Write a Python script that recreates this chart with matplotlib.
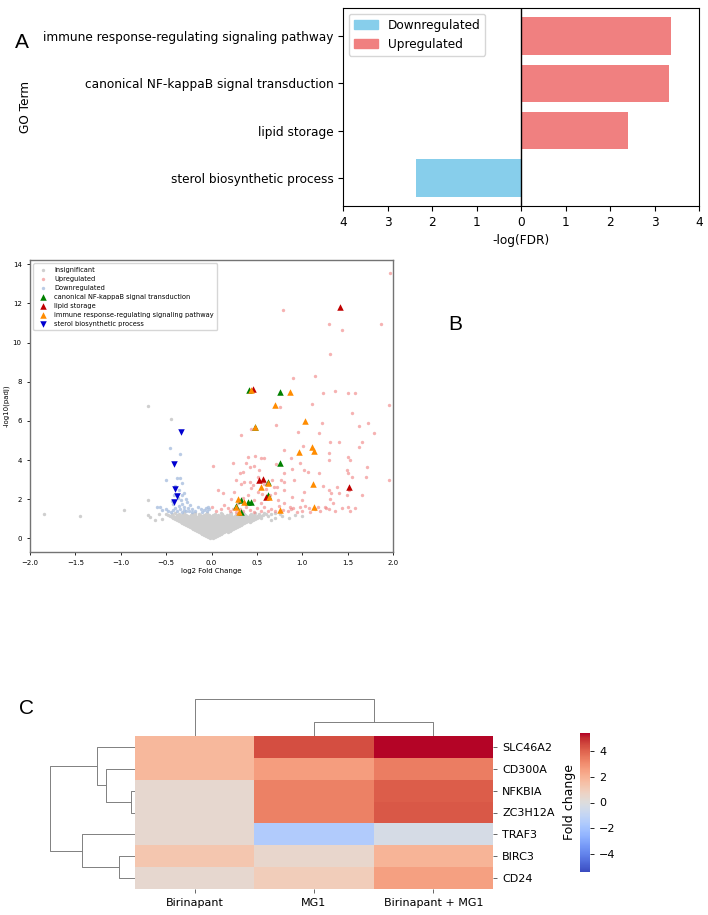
import matplotlib
matplotlib.use("Agg")
import matplotlib.pyplot as plt
import numpy as np
from matplotlib.patches import Patch

# ---------------- Panel A data ----------------
go_terms = ["sterol biosynthetic process", "lipid storage",
            "canonical NF-kappaB signal transduction",
            "immune response-regulating signaling pathway"]
go_neglog_fdr = [2.36, 2.40, 3.32, 3.37]
go_direction = ["Downregulated", "Upregulated", "Upregulated", "Upregulated"]
a_xticks = [-4, -3, -2, -1, 0, 1, 2, 3, 4]

# ---------------- Panel B data (log2FC, -log10 padj) ----------------
insig_rows_y = [0.02, 0.07, 0.12, 0.17, 0.22, 0.27, 0.32, 0.37, 0.42, 0.47, 0.52, 0.57,
                0.62, 0.67, 0.72, 0.77, 0.82, 0.87, 0.92, 0.97, 1.02, 1.07, 1.12, 1.17,
                1.22, 1.27]
insig_rows_x = [
    [-0.02, 0.02],
    [-0.04, 0.00, 0.04],
    [-0.06, -0.02, 0.02, 0.06],
    [-0.08, -0.04, 0.00, 0.04, 0.08],
    [-0.10, -0.06, -0.02, 0.02, 0.06, 0.10],
    [-0.12, -0.08, -0.04, 0.00, 0.04, 0.08, 0.12],
    [-0.14, -0.10, -0.06, -0.02, 0.02, 0.06, 0.10, 0.14, 0.18],
    [-0.16, -0.12, -0.08, -0.04, 0.00, 0.04, 0.08, 0.12, 0.16, 0.20],
    [-0.18, -0.14, -0.10, -0.06, -0.02, 0.02, 0.06, 0.10, 0.14, 0.18, 0.22],
    [-0.20, -0.16, -0.12, -0.08, -0.04, 0.00, 0.04, 0.08, 0.12, 0.16, 0.20, 0.24],
    [-0.22, -0.18, -0.14, -0.10, -0.06, -0.02, 0.02, 0.06, 0.10, 0.14, 0.18, 0.22, 0.26],
    [-0.24, -0.20, -0.16, -0.12, -0.08, -0.04, 0.00, 0.04, 0.08, 0.12, 0.16, 0.20, 0.24, 0.28],
    [-0.26, -0.22, -0.18, -0.14, -0.10, -0.06, -0.02, 0.02, 0.06, 0.10, 0.14, 0.18, 0.22, 0.26, 0.30],
    [-0.28, -0.24, -0.20, -0.16, -0.12, -0.08, -0.04, 0.00, 0.04, 0.08, 0.12, 0.16, 0.20, 0.24, 0.28, 0.32],
    [-0.30, -0.26, -0.22, -0.18, -0.14, -0.10, -0.06, -0.02, 0.02, 0.06, 0.10, 0.14, 0.18, 0.22, 0.26, 0.30, 0.34],
    [-0.32, -0.28, -0.24, -0.20, -0.16, -0.12, -0.08, -0.04, 0.00, 0.04, 0.08, 0.12, 0.16, 0.20, 0.24, 0.28, 0.32, 0.36],
    [-0.34, -0.30, -0.26, -0.22, -0.18, -0.14, -0.10, -0.06, -0.02, 0.02, 0.06, 0.10, 0.14, 0.18, 0.22, 0.26, 0.30, 0.34, 0.38, 0.42],
    [-0.36, -0.32, -0.28, -0.24, -0.20, -0.16, -0.12, -0.08, -0.04, 0.00, 0.04, 0.08, 0.12, 0.16, 0.20, 0.24, 0.28, 0.32, 0.36, 0.40, 0.44],
    [-0.38, -0.34, -0.30, -0.26, -0.22, -0.18, -0.14, -0.10, -0.06, -0.02, 0.02, 0.06, 0.10, 0.14, 0.18, 0.22, 0.26, 0.30, 0.34, 0.38, 0.42, 0.46],
    [-0.40, -0.36, -0.32, -0.28, -0.24, -0.20, -0.16, -0.12, -0.08, -0.04, 0.00, 0.04, 0.08, 0.12, 0.16, 0.20, 0.24, 0.28, 0.32, 0.36, 0.40, 0.44, 0.48],
    [-0.42, -0.38, -0.34, -0.30, -0.26, -0.22, -0.18, -0.14, -0.10, -0.06, -0.02, 0.02, 0.06, 0.10, 0.14, 0.18, 0.22, 0.26, 0.30, 0.34, 0.38, 0.42, 0.46, 0.50],
    [-0.44, -0.40, -0.36, -0.32, -0.28, -0.24, -0.20, -0.16, -0.12, -0.08, -0.04, 0.00, 0.04, 0.08, 0.12, 0.16, 0.20, 0.24, 0.28, 0.32, 0.36, 0.40, 0.44, 0.48, 0.52],
    [-0.46, -0.42, -0.38, -0.34, -0.30, -0.26, -0.22, -0.18, -0.14, -0.10, -0.06, -0.02, 0.02, 0.06, 0.10, 0.14, 0.18, 0.22, 0.26, 0.30, 0.34, 0.38, 0.42, 0.46, 0.50, 0.54],
    [-0.48, -0.43, -0.38, -0.33, -0.28, -0.23, -0.18, -0.13, -0.08, -0.03, 0.02, 0.07, 0.12, 0.17, 0.22, 0.27, 0.32, 0.37, 0.42, 0.47, 0.52, 0.57],
    [-0.50, -0.44, -0.36, -0.30, -0.22, -0.14, -0.06, 0.04, 0.12, 0.20, 0.28, 0.36, 0.44, 0.52, 0.60, 0.66],
    [-0.40, -0.30, -0.18, -0.05, 0.10, 0.22, 0.35, 0.48, 0.58, 0.70],
]
insig_scatter = [(-1.85, 1.25), (-1.45, 1.15), (-0.96, 1.45), (-0.70, 1.95), (-0.70, 6.78),
                 (-0.45, 6.10), (-0.70, 1.20), (-0.68, 1.10), (-0.62, 0.95), (-0.55, 1.00),
                 (-0.58, 1.25), (0.62, 1.15), (0.70, 1.05), (0.78, 1.12), (0.85, 1.05),
                 (0.92, 1.20), (1.00, 1.15), (0.75, 1.25), (0.55, 1.05), (0.66, 0.95)]

up_pts = [(1.97, 13.56), (0.79, 11.68), (1.30, 10.93), (1.44, 10.63), (1.87, 10.93), (1.31, 9.40),
          (0.90, 8.18), (1.14, 8.28), (1.23, 7.43), (1.36, 7.52), (1.50, 7.43), (1.58, 7.43),
          (1.11, 6.88), (1.96, 6.80), (0.76, 6.71), (1.55, 6.42), (0.71, 5.77), (1.22, 5.91),
          (1.63, 5.72), (1.72, 5.89), (1.79, 5.38), (0.95, 5.43), (1.18, 5.38), (0.43, 5.60),
          (0.33, 5.30), (1.31, 4.92), (1.41, 4.92), (1.66, 4.92), (1.62, 4.67), (1.71, 3.64),
          (0.80, 4.53), (1.01, 4.70), (0.88, 4.10), (0.98, 3.87), (1.02, 3.47), (1.06, 3.39),
          (1.29, 4.36), (1.29, 3.99), (1.18, 3.34), (1.50, 4.16), (1.53, 4.02), (1.49, 3.47),
          (1.50, 3.34), (1.55, 3.13), (1.70, 3.13), (1.66, 2.23), (1.23, 2.66), (1.30, 2.45),
          (1.32, 2.32), (1.38, 2.61), (1.41, 2.32), (1.49, 2.19), (1.51, 2.45), (0.71, 3.82),
          (0.80, 3.36), (0.89, 3.56), (0.77, 2.96), (0.72, 2.62), (0.80, 2.45), (0.89, 2.11),
          (1.02, 2.38), (1.00, 1.96), (0.90, 1.57), (0.97, 1.58), (1.03, 1.65), (1.07, 1.57),
          (1.17, 1.60), (1.26, 1.57), (1.30, 1.50), (1.44, 1.56), (1.50, 1.60), (1.58, 1.55),
          (1.53, 1.38), (1.31, 2.03), (1.34, 1.82), (1.96, 3.00),
          (0.40, 4.17), (0.48, 4.21), (0.545, 4.12), (0.58, 4.09), (0.24, 3.83), (0.38, 3.83),
          (0.42, 3.66), (0.47, 3.69), (0.52, 3.49), (0.02, 3.69), (0.31, 3.35), (0.345, 3.40),
          (0.27, 2.97), (0.32, 2.80), (0.36, 2.89), (0.42, 2.89), (0.46, 2.72), (0.51, 3.15),
          (0.58, 2.80), (0.67, 2.97), (0.69, 2.63), (0.80, 2.89), (0.91, 2.97), (0.07, 2.46),
          (0.13, 2.29), (0.22, 2.03), (0.25, 2.38), (0.40, 2.21), (0.51, 2.38), (0.47, 1.95),
          (0.55, 1.81), (0.73, 1.98), (0.80, 1.78), (0.87, 1.61), (0.18, 1.55), (0.20, 1.40),
          (0.24, 1.48), (0.27, 1.35), (0.31, 1.52), (0.35, 1.40), (0.38, 1.60), (0.42, 1.45),
          (0.47, 1.36), (0.50, 1.55), (0.55, 1.42), (0.58, 1.62), (0.62, 1.38), (0.66, 1.52),
          (0.70, 1.40), (0.74, 1.63), (0.79, 1.45), (0.84, 1.38), (0.88, 1.50), (0.94, 1.36),
          (1.00, 1.42), (1.08, 1.35), (1.14, 1.48), (1.20, 1.38), (1.25, 1.62), (1.36, 1.42),
          (0.65, 2.20), (0.70, 2.30), (0.60, 2.50), (0.56, 2.25), (0.44, 2.55), (0.35, 2.05),
          (0.29, 1.80), (0.14, 1.70), (0.10, 1.50), (0.05, 1.40), (0.00, 1.62)]

down_pts = [(-0.45, 1.35), (-0.42, 1.45), (-0.40, 1.55), (-0.38, 1.40), (-0.36, 1.65), (-0.35, 1.50),
            (-0.33, 1.35), (-0.32, 1.75), (-0.30, 1.45), (-0.30, 1.60), (-0.28, 1.38), (-0.27, 1.85),
            (-0.26, 1.55), (-0.25, 1.42), (-0.24, 1.70), (-0.22, 1.35), (-0.21, 1.50), (-0.34, 1.95),
            (-0.37, 2.05), (-0.33, 2.20), (-0.30, 2.30), (-0.36, 2.45), (-0.40, 2.65), (-0.32, 2.85),
            (-0.38, 3.10), (-0.35, 3.10), (-0.50, 3.00), (-0.46, 4.60), (-0.35, 4.30), (-0.43, 1.90),
            (-0.41, 2.20), (-0.60, 1.60), (-0.57, 1.62), (-0.55, 1.45), (-0.50, 1.50), (-0.48, 1.38),
            (-0.10, 1.35), (-0.08, 1.45), (-0.06, 1.55), (-0.05, 1.38), (-0.04, 1.62), (-0.03, 1.50),
            (-0.12, 1.52), (-0.42, 1.75), (-0.28, 2.00), (-0.18, 1.40), (-0.15, 1.60)]

canonical_pts = [(0.41, 7.59), (0.75, 7.45), (0.48, 5.71), (0.75, 3.83), (0.625, 2.89),
                 (0.33, 1.95), (0.40, 1.86), (0.44, 1.86), (0.265, 1.64), (0.32, 1.32), (0.62, 2.20)]
lipid_pts = [(1.42, 11.81), (0.46, 7.62), (0.52, 2.97), (0.565, 3.04), (0.60, 2.12), (1.51, 2.63)]
immune_pts = [(0.43, 7.60), (0.87, 7.50), (0.70, 6.79), (0.48, 5.71), (1.03, 5.97), (0.96, 4.43),
              (1.11, 4.68), (1.13, 4.46), (0.545, 2.60), (0.62, 2.85), (0.63, 2.12), (1.12, 2.80),
              (0.29, 2.03), (0.36, 1.83), (0.27, 1.60), (0.30, 1.35), (0.75, 1.44), (1.13, 1.61)]
sterol_pts = [(-0.34, 5.42), (-0.41, 3.79), (-0.40, 2.51), (-0.38, 2.15), (-0.41, 1.86)]

# ---------------- Panel C data ----------------
genes = ["SLC46A2", "CD300A", "NFKBIA", "ZC3H12A", "TRAF3", "BIRC3", "CD24"]
conditions = ["Birinapant", "MG1", "Birinapant + MG1"]
fold_birinapant = [1.8, 1.8, 0.4, 0.4, 0.4, 1.3, 0.4]
fold_mg1 = [4.4, 2.6, 3.3, 3.3, -1.6, 0.5, 1.0]
fold_combo = [5.4, 3.4, 4.1, 4.2, -0.3, 1.9, 2.5]
row_linkage = [[2, 3, 0.4], [1, 7, 2.9], [0, 8, 3.8], [5, 6, 1.6], [4, 10, 5.3], [9, 11, 8.5]]
col_linkage = [[1, 2, 1.4], [0, 3, 3.7]]
cbar_ticks = [-4, -2, 0, 2, 4]

# ---------------- Figure ----------------
W, H = 708, 915
fig = plt.figure(figsize=(W / 100, H / 100), dpi=100)


def box(l, t, r, b):
    return [l / W, 1 - b / H, (r - l) / W, (b - t) / H]


letter_font = dict(fontsize=15, family="Liberation Sans")

# ---- Panel A
axA = fig.add_axes(box(343, 8, 699, 206))
col_map = {"Downregulated": "#87CEEB", "Upregulated": "#F08080"}
ypos = np.arange(len(go_terms))
signed = [-v if d == "Downregulated" else v for v, d in zip(go_neglog_fdr, go_direction)]
axA.barh(ypos, signed, height=0.8, color=[col_map[d] for d in go_direction])
axA.axvline(0, color="black", lw=1)
axA.set_xlim(-4, 4)
axA.set_ylim(-0.6, 3.6)
axA.set_yticks(ypos)
axA.set_yticklabels(go_terms, fontsize=8.7)
axA.set_xticks(a_xticks)
axA.set_xticklabels([str(abs(t)) for t in a_xticks], fontsize=8.7)
axA.set_xlabel("-log(FDR)", fontsize=8.7)
axA.set_ylabel("GO Term", fontsize=8.7, labelpad=8)
axA.legend(handles=[Patch(color=col_map["Downregulated"], label="Downregulated"),
                    Patch(color=col_map["Upregulated"], label="Upregulated")],
           loc="upper left", fontsize=8.7)
fig.text(15 / W, 1 - 42 / H, "A", ha="left", va="center", **letter_font)

# ---- Panel B
axB = fig.add_axes(box(30, 260, 393, 552))
ix, iy = [], []
for yv, xs in zip(insig_rows_y, insig_rows_x):
    ix.extend(xs)
    iy.extend([yv] * len(xs))
ix.extend([p[0] for p in insig_scatter])
iy.extend([p[1] for p in insig_scatter])
axB.scatter(ix, iy, s=6, color="#cfcfcf", lw=0, label="Insignificant")
axB.scatter([p[0] for p in up_pts], [p[1] for p in up_pts], s=6, color="#f08080", alpha=0.6,
            lw=0, label="Upregulated")
axB.scatter([p[0] for p in down_pts], [p[1] for p in down_pts], s=6, color="#a9bfdf", alpha=0.8,
            lw=0, label="Downregulated")
axB.scatter([p[0] for p in canonical_pts], [p[1] for p in canonical_pts], marker="^", s=22,
            color="green", lw=0, label="canonical NF-kappaB signal transduction")
axB.scatter([p[0] for p in lipid_pts], [p[1] for p in lipid_pts], marker="^", s=22,
            color="#c00000", lw=0, label="lipid storage")
axB.scatter([p[0] for p in immune_pts], [p[1] for p in immune_pts], marker="^", s=22,
            color="darkorange", lw=0, label="immune response-regulating signaling pathway")
axB.scatter([p[0] for p in sterol_pts], [p[1] for p in sterol_pts], marker="v", s=22,
            color="#0000d0", lw=0, label="sterol biosynthetic process")
axB.set_xlim(-2, 2)
axB.set_ylim(-0.7, 14.22)
axB.set_xticks([-2, -1.5, -1, -0.5, 0, 0.5, 1, 1.5, 2])
axB.set_yticks([0, 2, 4, 6, 8, 10, 12, 14])
axB.tick_params(labelsize=5, length=2.5, width=0.6)
axB.set_xlabel("log2 Fold Change", fontsize=5, labelpad=1)
axB.set_ylabel("-log10(padj)", fontsize=5, labelpad=2)
for sp in axB.spines.values():
    sp.set_color("0.45")
    sp.set_linewidth(1.0)
axB.legend(loc="upper left", fontsize=4.8, markerscale=1.0, handletextpad=0.6,
           borderpad=0.5, labelspacing=0.45, frameon=True)
fig.text(455 / W, 1 - 325 / H, "B", ha="center", va="center", **letter_font)

# ---- Panel C
data = np.array([fold_birinapant, fold_mg1, fold_combo]).T
vmax = 5.4
axC = fig.add_axes(box(135, 736, 493, 889))
mesh = axC.pcolormesh(data, cmap="coolwarm", vmin=-vmax, vmax=vmax)
axC.set_xlim(0, data.shape[1])
axC.set_ylim(data.shape[0], 0)
axC.set_xticks(np.arange(data.shape[1]) + 0.5)
axC.set_xticklabels(conditions, fontsize=8)
axC.yaxis.tick_right()
axC.set_yticks(np.arange(data.shape[0]) + 0.5)
axC.set_yticklabels(genes, fontsize=8, rotation=0)
axC.tick_params(length=3, width=0.6, color="0.3")
for sp in axC.spines.values():
    sp.set_visible(False)


def dendro_segments(linkage, n):
    pos = {i: i + 0.5 for i in range(n)}
    hgt = {i: 0.0 for i in range(n)}
    segs = []
    for k, (a, b, h) in enumerate(linkage):
        a, b = int(a), int(b)
        segs.append(([pos[a], pos[a], pos[b], pos[b]], [hgt[a], h, h, hgt[b]]))
        pos[n + k] = (pos[a] + pos[b]) / 2
        hgt[n + k] = h
    return segs


dcol = "0.5"
axR = fig.add_axes(box(46, 736, 135, 889))
for p, h in dendro_segments(row_linkage, len(genes)):
    axR.plot(h, p, color=dcol, lw=0.7)
axR.set_ylim(len(genes), 0)
axR.set_xlim(max(l[2] for l in row_linkage) * 1.05, 0)
axR.axis("off")

axT = fig.add_axes(box(135, 697, 493, 736))
for p, h in dendro_segments(col_linkage, len(conditions)):
    axT.plot(p, h, color=dcol, lw=0.7)
axT.set_xlim(0, len(conditions))
axT.set_ylim(0, max(l[2] for l in col_linkage) * 1.05)
axT.axis("off")

cax = fig.add_axes(box(580, 733, 590, 872))
cb = fig.colorbar(mesh, cax=cax)
cb.outline.set_visible(False)
cb.set_ticks(cbar_ticks)
cb.ax.tick_params(labelsize=8, length=3, width=0.6)
cb.ax.yaxis.set_label_position("left")
cb.set_label("Fold change", fontsize=9, labelpad=3)
fig.text(27 / W, 1 - 708 / H, "C", ha="center", va="center", **letter_font)

fig.savefig("out.png", dpi=100)
